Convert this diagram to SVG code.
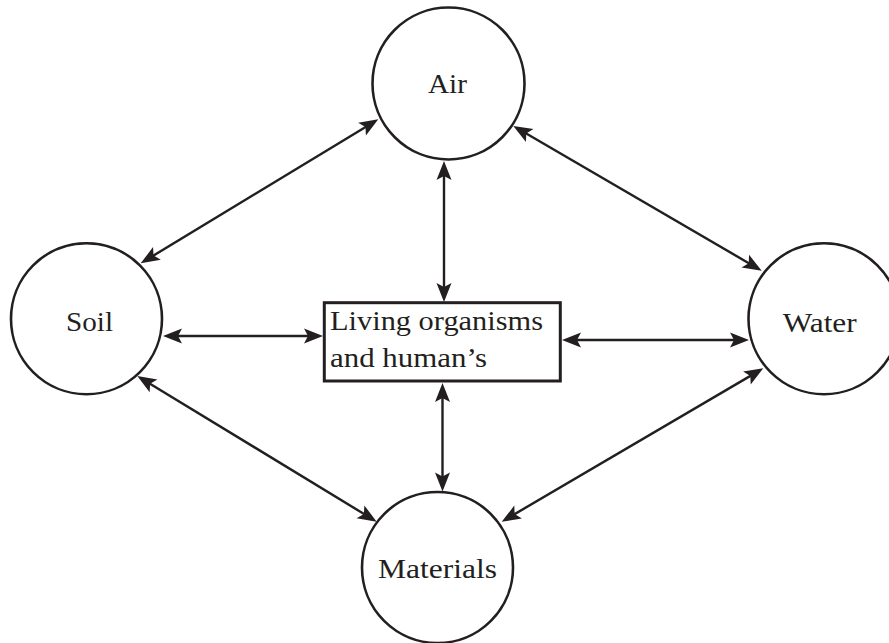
<svg xmlns="http://www.w3.org/2000/svg" width="889" height="643" viewBox="0 0 889 643">
<style>
.node{fill:#fff;stroke:#231f20;stroke-width:2.6}
.box{fill:#fff;stroke:#231f20;stroke-width:3}
.lbl{font-size:27px;fill:#231f20}
.con{stroke:#231f20;stroke-width:2.4;fill:none;marker-start:url(#ah);marker-end:url(#ah)}
</style>
<defs>
<marker id="ah" markerUnits="userSpaceOnUse" markerWidth="40" markerHeight="40" refX="0" refY="0" viewBox="-20 -20 40 40" orient="auto-start-reverse" overflow="visible">
<path d="M10,0 L-9,-7.5 L-5,0 L-9,7.5 Z" fill="#231f20"/>
</marker>
</defs>
<rect width="889" height="643" fill="#fff"/>
<g id="connectors">
<line class="con" x1="369.75" y1="124.48" x2="149.25" y2="258.12"/>
<line class="con" x1="521.94" y1="131.03" x2="753.06" y2="265.67"/>
<line class="con" x1="145.84" y1="381.2" x2="368.16" y2="516.5"/>
<line class="con" x1="754.67" y1="373.36" x2="510.33" y2="516.64"/>
<line class="con" x1="444" y1="171" x2="444" y2="292"/>
<line class="con" x1="442.5" y1="393" x2="442.5" y2="481.5"/>
<line class="con" x1="173" y1="336" x2="313" y2="336"/>
<line class="con" x1="572" y1="340" x2="739" y2="340"/>
</g>
<g id="air">
<circle class="node" cx="448.5" cy="83.5" r="76"/>
<text class="lbl" font-family="Liberation Serif, serif" x="428" y="92.7" textLength="39" lengthAdjust="spacingAndGlyphs">Air</text>
</g>
<g id="soil">
<circle class="node" cx="86.5" cy="318.7" r="75.5"/>
<text class="lbl" font-family="Liberation Serif, serif" x="66" y="331" textLength="47" lengthAdjust="spacingAndGlyphs">Soil</text>
</g>
<g id="water">
<circle class="node" cx="824" cy="318.7" r="75.5"/>
<text class="lbl" font-family="Liberation Serif, serif" x="782.7" y="332.3" textLength="74" lengthAdjust="spacingAndGlyphs">Water</text>
</g>
<g id="materials">
<circle class="node" cx="437.5" cy="567.5" r="75.5"/>
<text class="lbl" font-family="Liberation Serif, serif" x="378" y="577.7" textLength="119" lengthAdjust="spacingAndGlyphs">Materials</text>
</g>
<g id="living">
<rect class="box" x="324.3" y="302.7" width="236" height="78.3"/>
<text class="lbl" font-family="Liberation Serif, serif" x="330" y="330" textLength="213" lengthAdjust="spacingAndGlyphs">Living organisms</text>
<text class="lbl" font-family="Liberation Serif, serif" x="330" y="367" textLength="157" lengthAdjust="spacingAndGlyphs">and human’s</text>
</g>
</svg>
